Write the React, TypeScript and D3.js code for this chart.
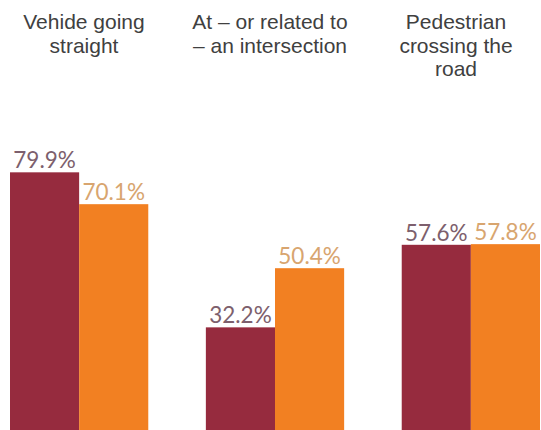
import React from "react";
import * as d3 from "d3";

const categories = ["Vehicle going straight", "At – or related to – an intersection", "Pedestrian crossing the road"];
const categoryLines = [
  ["Vehide going", "straight"],
  ["At – or related to", "– an intersection"],
  ["Pedestrian", "crossing the", "road"],
];
const seriesNames = ["A", "B"];
const seriesA = [79.9, 32.2, 57.6];
const seriesB = [70.1, 50.4, 57.8];
const barColors = ["#962b3e", "#f28022"];
const labelColors = ["#7d5f6d", "#d8a56f"];

const W = 541;
const H = 430;

export default function App() {
  const x0 = d3.scaleBand<string>().domain(categories).range([10, 540]).paddingInner(0.294).paddingOuter(0);
  const x1 = d3.scaleBand<string>().domain(seriesNames).range([0, x0.bandwidth()]).padding(0);
  const y = d3.scaleLinear().domain([0, 100]).range([432, 107]);
  const labelX = d3.scalePoint<string>().domain(categories).range([84, 456]);
  const series = [seriesA, seriesB];

  return (
    <div style={{ position: "absolute", left: 0, top: 0 }}>
      <svg width={W} height={H} style={{ display: "block", background: "#fff" }}>
        {categories.map((c, i) => (
          <g key={c}>
            {series.map((s, si) => {
              const bx = (x0(c) as number) + (x1(seriesNames[si]) as number);
              const bw = x1.bandwidth();
              return (
                <g key={si}>
                  <rect x={bx} y={y(s[i])} width={bw} height={y(0) - y(s[i])} fill={barColors[si]} />
                  <text
                    x={bx + bw / 2}
                    y={y(s[i]) - 4}
                    textAnchor="middle"
                    fontFamily="Lato, 'Open Sans', sans-serif"
                    fontSize={22.5}
                    fill={labelColors[si]}
                  >
                    {s[i].toFixed(1)}%
                  </text>
                </g>
              );
            })}
            <text
              x={labelX(c)}
              textAnchor="middle"
              fontFamily="'Liberation Sans', Arial, sans-serif"
              fontSize={21}
              fill="#404040"
            >
              {categoryLines[i].map((ln, li) => (
                <tspan key={li} x={labelX(c)} y={29 + li * 23.5}>
                  {ln}
                </tspan>
              ))}
            </text>
          </g>
        ))}
      </svg>
    </div>
  );
}
